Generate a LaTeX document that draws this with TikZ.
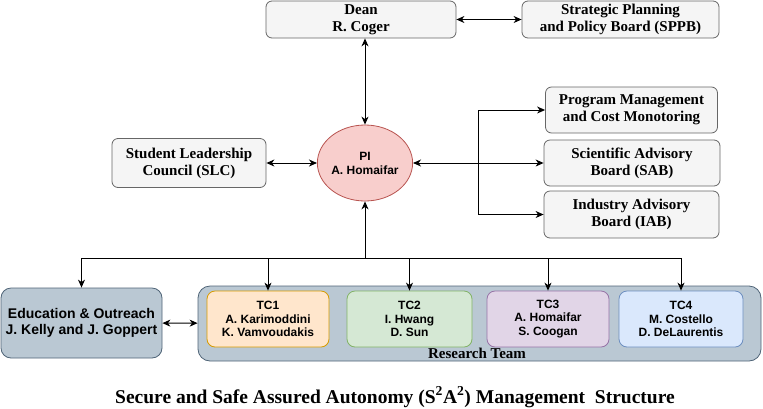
\documentclass[tikz,border=0pt]{standalone}
\usepackage{fontspec}
\setmainfont{Liberation Serif}
\newfontfamily\arialfont{Liberation Sans}
\usepackage{tikz}
\usetikzlibrary{arrows,arrows.meta,positioning,shapes.geometric}

\definecolor{boardfill}{HTML}{F5F5F5}
\definecolor{boardedge}{HTML}{666666}
\definecolor{pifill}{HTML}{F8CECC}
\definecolor{piedge}{HTML}{B85450}
\definecolor{teamfill}{HTML}{BAC8D3}
\definecolor{teamedge}{HTML}{4F6477}
\definecolor{tcafill}{HTML}{FFE6CC}
\definecolor{tcaedge}{HTML}{D79B00}
\definecolor{tcbfill}{HTML}{D5E8D4}
\definecolor{tcbedge}{HTML}{82B366}
\definecolor{tccfill}{HTML}{E1D5E7}
\definecolor{tccedge}{HTML}{9673A6}
\definecolor{tcdfill}{HTML}{DAE8FC}
\definecolor{tcdedge}{HTML}{6C8EBF}

\tikzstyle{board}=[rectangle,rounded corners=6pt,thick,draw=boardedge,fill=boardfill,inner sep=0pt,align=center,font=\fontsize{15}{17}\selectfont\bfseries]
\tikzstyle{picircle}=[ellipse,thick,draw=piedge,fill=pifill,minimum width=84pt,minimum height=76pt,inner sep=0pt,align=center,font=\arialfont\fontsize{12}{14}\selectfont\bfseries]
\tikzstyle{teambox}=[rectangle,thick,draw=teamedge,fill=teamfill,inner sep=0pt,align=center]
\tikzstyle{tcbox}=[rectangle,rounded corners=8pt,thick,minimum height=56pt,inner sep=0pt,align=center,font=\arialfont\fontsize{12}{13.5}\selectfont\bfseries]

\begin{document}
\begin{tikzpicture}[->,>={Stealth[length=8pt,width=7pt,inset=2.5pt]},x=1pt,y=-1pt,line width=1pt]
  \useasboundingbox (0,0) rectangle (763,408);

  \node[board, minimum width=190pt, minimum height=37pt] (dean) at (361,19.5) {Dean\\R. Coger};
  \node[board, minimum width=197pt, minimum height=37pt] (sppb) at (620.5,19.5) {Strategic Planning\\and Policy Board (SPPB)};
  \node[picircle] (pi) at (365,163) {PI\\A. Homaifar};
  \node[board, minimum width=154pt, minimum height=49pt] (slc) at (189,163) {Student Leadership\\Council (SLC)};
  \node[board, minimum width=172pt, minimum height=46pt] (pm) at (631.5,110) {Program Management\\and Cost Monotoring};
  \node[board, minimum width=176pt, minimum height=46pt] (sab) at (632,163) {Scientific Advisory\\Board (SAB)};
  \node[board, minimum width=175pt, minimum height=47pt] (iab) at (631.5,214.5) {Industry Advisory\\Board (IAB)};

  \node[teambox, rounded corners=10pt, minimum width=161pt, minimum height=70pt, font=\arialfont\fontsize{14}{15.5}\selectfont\bfseries] (eo) at (81.5,323) {Education \& Outreach\\J. Kelly and J. Goppert};
  \node[teambox, rounded corners=12pt, minimum width=563pt, minimum height=75pt] (team) at (479.5,323.5) {};
  \node[font=\fontsize{15}{17}\selectfont\bfseries] (teamlabel) at (477,353) {Research Team};
  \node[tcbox, minimum width=122pt, draw=tcaedge, fill=tcafill] (tc1) at (268,319) {TC1\\A. Karimoddini\\K. Vamvoudakis};
  \node[tcbox, minimum width=125pt, draw=tcbedge, fill=tcbfill] (tc2) at (409.5,319) {TC2\\I. Hwang\\D. Sun};
  \node[tcbox, minimum width=122pt, draw=tccedge, fill=tccfill] (tc3) at (548,319) {TC3\\A. Homaifar\\S. Coogan};
  \node[tcbox, minimum width=124pt, draw=tcdedge, fill=tcdfill] (tc4) at (681,319) {TC4\\M. Costello\\D. DeLaurentis};

  \node[font=\fontsize{19.5}{22}\selectfont\bfseries] (caption) at (395,397) {Secure and Safe Assured Autonomy (S\textsuperscript{2}A\textsuperscript{2}) Management\ \ Structure};

  \coordinate (branch) at (478,163);
  \coordinate (bus) at (365,258);

  \draw[<->] (dean) -- (sppb);
  \draw[<->] (pi |- dean.south) -- (pi);
  \draw[<->] (slc) -- (pi);
  \draw (branch) -- (pi);
  \draw (branch) -- (sab);
  \draw[-] (branch |- pm) -- (branch |- iab);
  \draw (branch |- pm) -- (pm);
  \draw (branch |- iab) -- (iab);

  \draw (bus) -- (pi);
  \draw[-] (eo |- bus) -- (tc4 |- bus);
  \draw (eo |- bus) -- (eo);
  \draw (tc1 |- bus) -- (tc1);
  \draw (tc2 |- bus) -- (tc2);
  \draw (tc3 |- bus) -- (tc3);
  \draw (tc4 |- bus) -- (tc4);
  \draw[<->] (eo) -- (team);
\end{tikzpicture}
\end{document}
